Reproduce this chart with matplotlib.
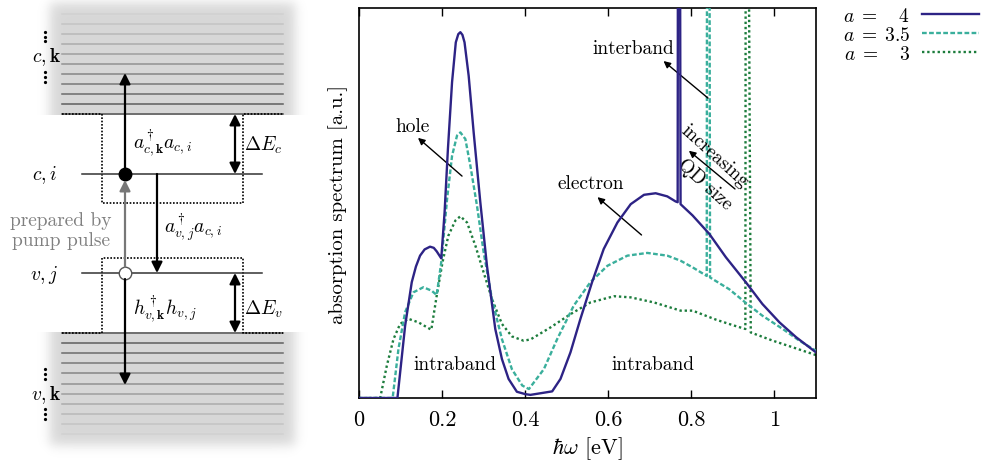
import matplotlib
matplotlib.use("Agg")
import matplotlib.pyplot as plt
import numpy as np

plt.rcParams['font.family'] = 'cmr10'
plt.rcParams['mathtext.fontset'] = 'cm'
plt.rcParams['axes.formatter.use_mathtext'] = True

# absorption spectra (hbar*omega in eV, arbitrary units)
x_a4 = [0.0, 0.0925, 0.111, 0.127, 0.137, 0.147, 0.158, 0.171, 0.180, 0.187, 0.198,
        0.206, 0.214, 0.224, 0.233, 0.239, 0.244, 0.249, 0.254, 0.264, 0.276, 0.292,
        0.308, 0.328, 0.344, 0.360, 0.380, 0.400, 0.4125, 0.465, 0.485, 0.509,
        0.533, 0.561, 0.589, 0.622, 0.654, 0.686, 0.714, 0.742, 0.762, 0.767,
        0.768, 0.772, 0.774, 0.803, 0.843, 0.883, 0.931, 0.971, 1.012, 1.052, 1.1]
y_a4 = [0.0, 0.0, 0.185, 0.297, 0.337, 0.365, 0.381, 0.388, 0.385, 0.376, 0.358,
        0.476, 0.638, 0.81, 0.912, 0.933, 0.938, 0.931, 0.912, 0.826, 0.681, 0.502,
        0.339, 0.177, 0.10, 0.049, 0.016, 0.010, 0.008, 0.017, 0.049, 0.117,
        0.203, 0.297, 0.382, 0.450, 0.497, 0.521, 0.525, 0.517, 0.504, 0.502,
        1.6, 1.6, 0.497, 0.468, 0.421, 0.361, 0.297, 0.241, 0.194, 0.156, 0.117]

x_a35 = [0.0, 0.081, 0.095, 0.111, 0.131, 0.155, 0.175, 0.187, 0.198, 0.212, 0.224,
         0.236, 0.244, 0.256, 0.268, 0.284, 0.300, 0.320, 0.344, 0.368, 0.393,
         0.409, 0.445, 0.477, 0.517, 0.557, 0.598, 0.646, 0.694, 0.742, 0.774,
         0.803, 0.837, 0.838, 0.843, 0.845, 0.891, 0.931, 0.971, 1.020, 1.060, 1.1]
y_a35 = [0.0, 0.0, 0.126, 0.220, 0.271, 0.284, 0.275, 0.264, 0.348, 0.510, 0.621,
         0.673, 0.681, 0.664, 0.596, 0.493, 0.374, 0.254, 0.151, 0.074, 0.032,
         0.023, 0.074, 0.151, 0.237, 0.297, 0.339, 0.365, 0.372, 0.365, 0.352,
         0.335, 0.313, 1.6, 1.6, 0.309, 0.279, 0.244, 0.211, 0.177, 0.147, 0.121]

x_a3 = [0.0, 0.051, 0.067, 0.083, 0.099, 0.119, 0.143, 0.174, 0.187, 0.201, 0.215,
        0.232, 0.244, 0.260, 0.280, 0.300, 0.320, 0.344, 0.368, 0.396, 0.4125,
        0.461, 0.509, 0.557, 0.614, 0.654, 0.710, 0.774, 0.803, 0.859, 0.899,
        0.930, 0.931, 0.936, 0.943, 0.996, 1.044, 1.1]
y_a3 = [0.0, 0.0, 0.083, 0.151, 0.190, 0.203, 0.194, 0.175, 0.262, 0.348, 0.416,
        0.455, 0.466, 0.450, 0.391, 0.322, 0.254, 0.190, 0.158, 0.147, 0.150,
        0.181, 0.215, 0.245, 0.261, 0.258, 0.245, 0.224, 0.224, 0.201, 0.187,
        0.177, 1.6, 1.6, 0.168, 0.147, 0.130, 0.110]

labels = [r'$a\;=\;\;\;\;4$', r'$a\;=\;3.5$', r'$a\;=\;\;\;\;3$']
xticks = [0, 0.2, 0.4, 0.6, 0.8, 1]
xtick_labels = ['0', '0.2', '0.4', '0.6', '0.8', '1']

c_solid = '#2d2385'
c_dash = '#3aaf9c'
c_dot = '#1c7c3c'

fig = plt.figure(figsize=(9.89, 4.64), dpi=100)

# ---------------- left: level scheme ----------------
ax0 = fig.add_axes([0, 0, 320 / 989, 1])
ax0.set_xlim(0, 320)
ax0.set_ylim(464, 0)
ax0.axis('off')

W, H = 320, 464
X, Y = np.meshgrid(np.arange(W) + 0.5, np.arange(H) + 0.5)


def soft(t, w):
    return 0.5 * (1 + np.tanh(t / w))


fx = soft(X - 50, 7) * soft(295 - X, 7)
f_up = fx * soft(Y - 4, 7) * (Y <= 115.5)
f_lo = fx * soft(446 - Y, 7) * (Y >= 333.5)
img = 1 - 0.16 * (f_up + f_lo)
ax0.imshow(img, cmap='gray', vmin=0, vmax=1, extent=(0, W, H, 0), aspect='auto',
           interpolation='bilinear')

band_x = [62, 283]
up_lines = np.linspace(14.7, 115, 11)
lo_lines = np.linspace(334, 435, 11)
for k, yy in enumerate(up_lines):
    g = 0.82 - 0.5 * k / 10
    ax0.plot(band_x, [yy, yy], color=str(g), lw=1.1)
for k, yy in enumerate(lo_lines):
    g = 0.32 + 0.5 * k / 10
    ax0.plot(band_x, [yy, yy], color=str(g), lw=1.1)

# dotted wells
ax0.plot([62, 102, 102, 243, 243, 283], [115, 115, 204, 204, 115, 115],
         color='k', ls=(0, (1, 1)), lw=1.2)
ax0.plot([62, 102, 102, 243, 243, 283], [334, 334, 259, 259, 334, 334],
         color='k', ls=(0, (1, 1)), lw=1.2)

# localized levels
ax0.plot([82, 262], [175, 175], color='#333333', lw=1.1)
ax0.plot([82, 262], [274, 274], color='#333333', lw=1.1)

arw = dict(arrowstyle='-|>', color='k', lw=1.6, mutation_scale=16, shrinkA=0, shrinkB=0)
ax0.annotate('', xy=(125, 74), xytext=(125, 175), arrowprops=arw)
ax0.annotate('', xy=(157, 274), xytext=(157, 175), arrowprops=arw)
ax0.annotate('', xy=(125, 386), xytext=(125, 280), arrowprops=arw)
ax0.annotate('', xy=(125, 181), xytext=(125, 268),
             arrowprops=dict(arw, color='#777777'))
dbl = dict(arrowstyle='<|-|>', color='k', lw=1.6, mutation_scale=16, shrinkA=0, shrinkB=0)
ax0.annotate('', xy=(235, 115), xytext=(235, 175), arrowprops=dbl)
ax0.annotate('', xy=(235, 274), xytext=(235, 334), arrowprops=dbl)

ax0.plot([125], [175], 'o', ms=9, color='k')
ax0.plot([125], [274], 'o', ms=9, mfc='white', mec='#555555', mew=1)

dots_y = [33, 37.5, 42, 73, 78, 83, 370, 375, 380, 410, 415, 420]
ax0.plot([45] * len(dots_y), dots_y, 'o', ms=1.3, color='k', ls='none')

fs = 14
ax0.text(61, 57, r'$c,\mathbf{k}$', fontsize=fs, ha='right', va='center')
ax0.text(57, 175, r'$c,i$', fontsize=fs, ha='right', va='center')
ax0.text(58, 275, r'$v,j$', fontsize=fs, ha='right', va='center')
ax0.text(61, 395, r'$v,\mathbf{k}$', fontsize=fs, ha='right', va='center')
ax0.text(61, 231, 'prepared by\npump pulse', fontsize=14, color='#808080',
         ha='center', va='center', linespacing=1.2)
ax0.text(133, 143, r'$a^\dagger_{c,\mathbf{k}}a_{c,i}$', fontsize=fs, va='center')
ax0.text(244, 145, r'$\Delta E_c$', fontsize=fs, va='center')
ax0.text(164, 228, r'$a^\dagger_{v,j}a_{c,i}$', fontsize=fs, va='center')
ax0.text(133, 309, r'$h^\dagger_{v,\mathbf{k}}h_{v,j}$', fontsize=fs, va='center')
ax0.text(244, 309, r'$\Delta E_v$', fontsize=fs, va='center')

# ---------------- right: spectra ----------------
ax = fig.add_axes([359 / 989, 65 / 464, 457 / 989, 390 / 464])
l1, = ax.plot(x_a4, y_a4, color=c_solid, lw=1.7, label=labels[0], zorder=4)
l2, = ax.plot(x_a35, y_a35, color=c_dash, lw=1.7, ls=(0, (2, 1)), label=labels[1], zorder=3)
l3, = ax.plot(x_a3, y_a3, color=c_dot, lw=1.7, ls=(0, (1, 1.2)), label=labels[2], zorder=2)

ax.set_xlim(0, 1.1)
ax.set_ylim(0, 1)
ax.set_xticks(xticks)
ax.set_xticklabels(xtick_labels)
ax.set_yticks([])
ax.tick_params(axis='x', direction='in', top=True, length=6, width=1, labelsize=16, pad=8)
for s in ax.spines.values():
    s.set_linewidth(1.2)
ax.set_xlabel(r'$\hbar\omega$ [eV]', fontsize=16, labelpad=4)
ax.set_ylabel('absorption spectrum [a.u.]', fontsize=15, labelpad=8)

tfs = 14
small = dict(arrowstyle='-|>', color='k', lw=1.0, mutation_scale=10, shrinkA=0, shrinkB=0)
ax.text(0.130, 0.697, 'hole', fontsize=tfs, ha='center', va='center')
ax.annotate('', xy=(0.142, 0.667), xytext=(0.248, 0.569), arrowprops=small)
ax.text(0.557, 0.551, 'electron', fontsize=tfs, ha='center', va='center')
ax.annotate('', xy=(0.574, 0.515), xytext=(0.680, 0.418), arrowprops=small)
ax.text(0.661, 0.897, 'interband', fontsize=tfs, ha='center', va='center')
ax.annotate('', xy=(0.733, 0.864), xytext=(0.840, 0.769), arrowprops=small)
ax.text(0.857, 0.623, 'increasing', fontsize=tfs, ha='center', va='center',
        rotation=-42, rotation_mode='anchor')
ax.text(0.832, 0.549, 'QD size', fontsize=tfs, ha='center', va='center',
        rotation=-42, rotation_mode='anchor')
ax.annotate('', xy=(0.794, 0.634), xytext=(0.905, 0.536), arrowprops=small)
ax.text(0.230, 0.087, 'intraband', fontsize=tfs, ha='center', va='center')
ax.text(0.707, 0.087, 'intraband', fontsize=tfs, ha='center', va='center')

fig.legend(handles=[l1, l2, l3], loc='upper left', bbox_to_anchor=(843 / 989, 1 - 8 / 464),
           frameon=False, markerfirst=False, fontsize=14, handlelength=2.9,
           labelspacing=0.05, handletextpad=0.6, borderaxespad=0, borderpad=0)

fig.savefig('out.png', dpi=100)
